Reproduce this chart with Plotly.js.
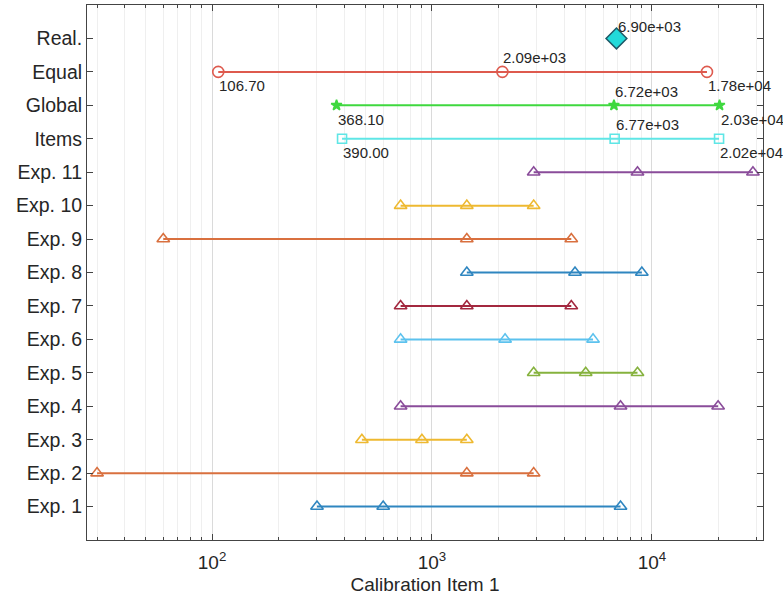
<!DOCTYPE html>
<html><head><meta charset="utf-8">
<script src="https://cdn.plot.ly/plotly-3.0.1.min.js"></script>
<style>html,body{margin:0;padding:0;background:#fff}</style>
</head><body><div id="chart" style="width:783px;height:599px"></div>
<script>
const rowLabels = ['Exp. 1','Exp. 2','Exp. 3','Exp. 4','Exp. 5','Exp. 6','Exp. 7','Exp. 8','Exp. 9','Exp. 10','Exp. 11','Items','Global','Equal','Real.'];
const exp1 = [300, 600, 7200];
const exp2 = [30, 1440, 2900];
const exp3 = [480, 900, 1440];
const exp4 = [720, 7200, 20000];
const exp5 = [2900, 5000, 8600];
const exp6 = [720, 2150, 5400];
const exp7 = [720, 1440, 4300];
const exp8 = [1440, 4470, 9000];
const exp9 = [60, 1440, 4300];
const exp10 = [720, 1440, 2900];
const exp11 = [2900, 8600, 28800];
const itemsValues = [390, 6770, 20200];
const globalValues = [368.1, 6720, 20300];
const equalValues = [106.7, 2090, 17800];
const realValue = [6900];
const xTickVals = [100, 1000, 10000];
const xTickText = ['10<sup>2</sup>', '10<sup>3</sup>', '10<sup>4</sup>'];

const expSeries = [exp1, exp2, exp3, exp4, exp5, exp6, exp7, exp8, exp9, exp10, exp11];
const expColors = ['#2f86c0','#d9703f','#eeb930','#8a4c9a','#86b23e','#5cc2ee','#a3283f','#2f86c0','#d9703f','#eeb930','#8a4c9a'];

const traces = [];
expSeries.forEach((vals, i) => {
  traces.push({
    x: vals, y: vals.map(() => i + 1), type: 'scatter', mode: 'lines+markers',
    line: {color: expColors[i], width: 2},
    marker: {symbol: 'triangle-up-open', size: 11, color: expColors[i], line: {width: 1.6}},
    hoverinfo: 'x'
  });
});
function rowTrace(vals, y, color, symbol, size) {
  return {x: vals, y: vals.map(() => y), type: 'scatter', mode: 'lines+markers',
    line: {color: color, width: 2},
    marker: {symbol: symbol, size: size, color: color, line: {width: 1.6, color: color}}};
}
traces.push(rowTrace(itemsValues, 12, '#5fe6e6', 'square-open', 9));
traces.push(rowTrace(globalValues, 13, '#3fd83f', 'star', 8));
traces.push(rowTrace(equalValues, 14, '#de5a4e', 'circle-open', 11));
traces.push({x: realValue, y: [15], type: 'scatter', mode: 'markers',
  marker: {symbol: 'diamond', size: 16, color: '#22dada', line: {color: '#1d5866', width: 1.5}}});

function fmtE(v) {
  const s = v.toExponential(2);
  const [m, e] = s.split('e');
  const sign = e[0] === '-' ? '-' : '+';
  const d = e.replace(/[+-]/, '');
  return m + 'e' + sign + (d.length < 2 ? '0' + d : d);
}
const annotations = [];
[[itemsValues, 12], [globalValues, 13], [equalValues, 14]].forEach(([vals, y]) => {
  vals.forEach((v, k) => {
    annotations.push({
      x: Math.log10(v), y: y, xref: 'x', yref: 'y',
      text: k === 0 ? v.toFixed(2) : fmtE(v),
      showarrow: false, xanchor: 'left', yanchor: 'middle',
      yshift: k === 1 ? 14 : -14, xshift: -1,
      font: {size: 15, color: '#262626'}
    });
  });
});
annotations.push({x: Math.log10(realValue[0]), y: 15, xref: 'x', yref: 'y', text: fmtE(realValue[0]),
  showarrow: false, xanchor: 'left', yanchor: 'middle', yshift: 12, xshift: 0,
  font: {size: 15, color: '#262626'}});

const minorVals = [];
[10, 100, 1000, 10000].forEach(d => { for (let k = 2; k <= 9; k++) minorVals.push(d * k); });

const layout = {
  width: 783, height: 599,
  margin: {l: 87, r: 20, t: 5, b: 59},
  paper_bgcolor: '#fff', plot_bgcolor: '#fff',
  showlegend: false,
  font: {family: 'Liberation Sans, Arial, sans-serif', color: '#262626', size: 19},
  xaxis: {
    type: 'log', range: [Math.log10(27), Math.log10(32000)],
    tickmode: 'array', tickvals: xTickVals, ticktext: xTickText,
    ticks: 'inside', ticklen: 6, tickcolor: '#444', mirror: 'ticks',
    showline: true, linecolor: '#444', linewidth: 1,
    showgrid: true, gridcolor: '#dadada', zeroline: false,
    tickfont: {size: 19}, ticklabelstandoff: 5,
    minor: {tickmode: 'array', tickvals: minorVals, ticks: 'inside', ticklen: 3, tickcolor: '#444', showgrid: true, gridcolor: '#efefef'},
    title: {text: 'Calibration Item 1', font: {size: 19}, standoff: 5}
  },
  yaxis: {
    range: [0, 16], tickmode: 'array', tickvals: rowLabels.map((_, i) => i + 1), ticktext: rowLabels,
    ticks: 'inside', ticklen: 6, tickcolor: '#444', mirror: 'ticks',
    showline: true, linecolor: '#444', linewidth: 1,
    showgrid: false, zeroline: false, tickfont: {size: 19.5}
  },
  annotations: annotations
};
Plotly.newPlot('chart', traces, layout, {displayModeBar: false, staticPlot: true});
</script></body></html>
